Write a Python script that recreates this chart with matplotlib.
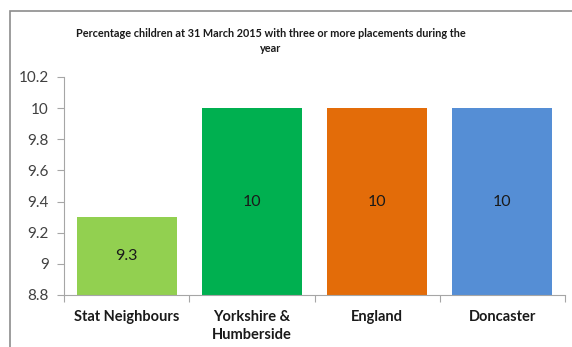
import matplotlib.pyplot as plt
from matplotlib.patches import Rectangle

categories = ["Stat Neighbours", "Yorkshire &\nHumberside", "England", "Doncaster"]
values = [9.3, 10, 10, 10]
labels = ["9.3", "10", "10", "10"]
colors = ["#92D050", "#00B050", "#E36C09", "#558ED5"]
yticks = [8.8, 9, 9.2, 9.4, 9.6, 9.8, 10, 10.2]
ytick_labels = ["8.8", "9", "9.2", "9.4", "9.6", "9.8", "10", "10.2"]

plt.rcParams['font.family'] = ['Lato', 'DejaVu Sans']

fig = plt.figure(figsize=(5.72, 3.47), dpi=100)
fig.patches.append(Rectangle((10 / 572, -0.05), 1.0, 1 - 11 / 347 + 0.05,
                             transform=fig.transFigure, fill=False,
                             edgecolor="#8c8c8c", linewidth=1.2))

ax = fig.add_axes([64 / 572, 1 - 295 / 347, (565 - 64) / 572, (295 - 77) / 347])
x = list(range(len(categories)))
bars = ax.bar(x, [v - 8.8 for v in values], bottom=8.8, width=0.8, color=colors)
ax.bar_label(bars, labels=labels, label_type="center", fontsize=11.5, color="#1a1a1a")

ax.set_ylim(8.8, 10.2)
ax.set_xlim(-0.5, len(categories) - 0.5)
ax.set_yticks(yticks)
ax.set_yticklabels(ytick_labels, fontsize=11, color="#404040")
ax.set_xticks([i - 0.5 for i in range(len(categories) + 1)], minor=False)
ax.set_xticklabels([])
ax.set_xticks(x, minor=True)
ax.set_xticklabels(categories, minor=True, fontsize=10.5, fontweight="bold",
                   color="#1a1a1a", linespacing=1.3)
ax.tick_params(axis="x", which="minor", length=0, pad=11)
ax.tick_params(axis="x", which="major", length=5, color="#a6a6a6")
ax.tick_params(axis="y", length=5, color="#a6a6a6", pad=6)
for s in ["top", "right"]:
    ax.spines[s].set_visible(False)
for s in ["left", "bottom"]:
    ax.spines[s].set_color("#a6a6a6")

fig.text(271 / 572, 1 - 41 / 347,
         "Percentage children at 31 March 2015 with three or more placements during the\nyear",
         ha="center", va="center", fontsize=7.8, fontweight="bold", color="#1a1a1a",
         linespacing=1.55)

fig.savefig("out.png", dpi=100)
